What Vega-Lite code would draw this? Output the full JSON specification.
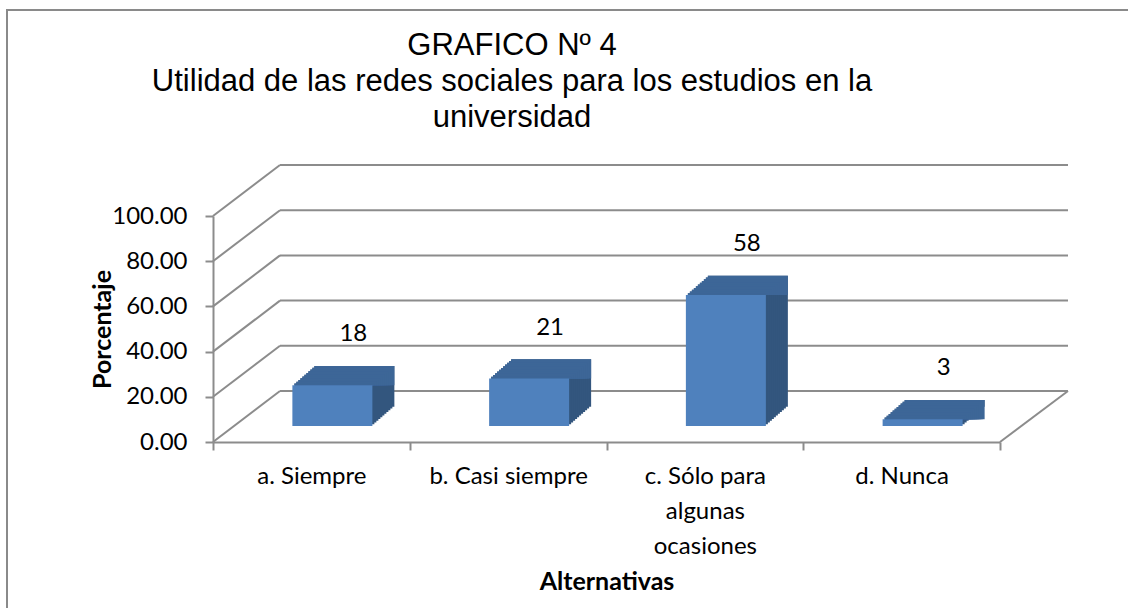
{
  "$schema": "https://vega.github.io/schema/vega-lite/v6.json",
  "autosize": "none",
  "width": 1140,
  "height": 610,
  "padding": {"left": 7, "top": 10, "right": -19, "bottom": -12},
  "background": "white",
  "config": {
    "font": "Lato",
    "view": {"stroke": "#8a8a8a", "strokeWidth": 2}
  },
  "title": {
    "text": ["GRAFICO Nº 4", "Utilidad de las redes sociales para los estudios en la", "universidad"],
    "font": "Liberation Sans",
    "fontSize": 31,
    "fontWeight": "normal",
    "color": "#000000",
    "lineHeight": 36,
    "anchor": "middle",
    "frame": "group",
    "dx": -65,
    "offset": -124
  },
  "datasets": {
    "bars": [
      {"cat": "a. Siempre", "value": 18},
      {"cat": "b. Casi siempre", "value": 21},
      {"cat": "c. Sólo para algunas ocasiones", "value": 58},
      {"cat": "d. Nunca", "value": 3}
    ],
    "grid": [
      {"value": 0}, {"value": 20}, {"value": 40}, {"value": 60}, {"value": 80}, {"value": 100}
    ],
    "floor": [{"value": 0}]
  },
  "layer": [
    {
      "data": {"name": "grid"},
      "mark": {"type": "rule", "color": "#8c8c8c", "strokeWidth": 2, "xOffset": 67, "x2Offset": 68, "yOffset": -51},
      "encoding": {
        "x": {"datum": "a. Siempre", "type": "nominal", "bandPosition": 0,
          "scale": {"domain": ["a. Siempre", "b. Casi siempre", "c. Sólo para algunas ocasiones", "d. Nunca"], "range": [206, 993], "paddingInner": 0, "paddingOuter": 0},
          "title": "Alternativas",
          "axis": {
            "orient": "bottom", "offset": -178, "tickBand": "extent",
            "domainColor": "#8c8c8c", "domainWidth": 2, "tickColor": "#8c8c8c", "tickWidth": 2, "tickSize": 8,
            "labelFont": "Lato", "labelFontSize": 24, "labelColor": "#000000", "labelAngle": 0, "labelPadding": 14, "labelLineHeight": 35,
            "labelLimit": 300,
            "labelExpr": "datum.value == 'c. Sólo para algunas ocasiones' ? ['c. Sólo para', 'algunas', 'ocasiones'] : datum.label",
            "titleFont": "Lato", "titleFontSize": 25, "titleFontWeight": "bold", "titleColor": "#000000", "titlePadding": 11,
            "grid": false
          }
        },
        "x2": {"datum": "d. Nunca", "bandPosition": 1},
        "y": {"field": "value", "type": "quantitative", "title": "Porcentaje",
          "scale": {"domain": [0, 100], "range": [432, 206], "nice": false, "zero": true},
          "axis": {
            "orient": "left", "offset": -206, "values": [0, 20, 40, 60, 80, 100], "format": ".2f",
            "domainColor": "#8c8c8c", "domainWidth": 2, "tickColor": "#8c8c8c", "tickWidth": 2, "tickSize": 8,
            "labelFont": "Lato", "labelFontSize": 24, "labelColor": "#000000", "labelPadding": 18,
            "titleFont": "Lato", "titleFontSize": 25, "titleFontWeight": "bold", "titleColor": "#000000", "titlePadding": -4,
            "grid": false
          }
        }
      }
    },
    {
      "data": {"name": "grid"},
      "mark": {"type": "rule", "color": "#8c8c8c", "strokeWidth": 2, "x2Offset": 67, "y2Offset": -51},
      "encoding": {
        "x": {"datum": "a. Siempre", "type": "nominal", "bandPosition": 0, "title": "Alternativas"},
        "x2": {"datum": "a. Siempre", "bandPosition": 0},
        "y": {"field": "value", "type": "quantitative", "title": "Porcentaje"},
        "y2": {"field": "value"}
      }
    },
    {
      "data": {"name": "floor"},
      "mark": {"type": "rule", "color": "#8c8c8c", "strokeWidth": 2, "x2Offset": 68, "y2Offset": -51},
      "encoding": {
        "x": {"datum": "d. Nunca", "type": "nominal", "bandPosition": 1, "title": "Alternativas"},
        "x2": {"datum": "d. Nunca", "bandPosition": 1},
        "y": {"field": "value", "type": "quantitative", "title": "Porcentaje"},
        "y2": {"field": "value"}
      }
    },
    {
      "data": {"name": "bars"},
      "encoding": {
        "x": {"field": "cat", "type": "nominal", "title": "Alternativas"},
        "y": {"field": "value", "type": "quantitative", "title": "Porcentaje"}
      },
      "layer": [
        {"mark": {"type": "bar", "color": "#33567E", "width": {"band": 0.4066}, "xOffset": 43, "x2Offset": 43, "yOffset": -35.25, "y2Offset": -35.25}},
        {"mark": {"type": "bar", "color": "#33567E", "width": {"band": 0.4066}, "xOffset": 41, "x2Offset": 41, "yOffset": -33.5, "y2Offset": -33.5}},
        {"mark": {"type": "bar", "color": "#33567E", "width": {"band": 0.4066}, "xOffset": 39, "x2Offset": 39, "yOffset": -31.75, "y2Offset": -31.75}},
        {"mark": {"type": "bar", "color": "#33567E", "width": {"band": 0.4066}, "xOffset": 37, "x2Offset": 37, "yOffset": -30, "y2Offset": -30}},
        {"mark": {"type": "bar", "color": "#33567E", "width": {"band": 0.4066}, "xOffset": 35, "x2Offset": 35, "yOffset": -28.25, "y2Offset": -28.25}},
        {"mark": {"type": "bar", "color": "#33567E", "width": {"band": 0.4066}, "xOffset": 33, "x2Offset": 33, "yOffset": -26.5, "y2Offset": -26.5}},
        {"mark": {"type": "bar", "color": "#33567E", "width": {"band": 0.4066}, "xOffset": 31, "x2Offset": 31, "yOffset": -24.75, "y2Offset": -24.75}},
        {"mark": {"type": "bar", "color": "#33567E", "width": {"band": 0.4066}, "xOffset": 29, "x2Offset": 29, "yOffset": -23, "y2Offset": -23}},
        {"mark": {"type": "bar", "color": "#33567E", "width": {"band": 0.4066}, "xOffset": 27, "x2Offset": 27, "yOffset": -21.25, "y2Offset": -21.25}},
        {"mark": {"type": "bar", "color": "#33567E", "width": {"band": 0.4066}, "xOffset": 25, "x2Offset": 25, "yOffset": -19.5, "y2Offset": -19.5}},
        {"mark": {"type": "bar", "color": "#33567E", "width": {"band": 0.4066}, "xOffset": 23, "x2Offset": 23, "yOffset": -17.75, "y2Offset": -17.75}},
        {"mark": {"type": "bar", "color": "#3D6697", "width": {"band": 0.4066}, "xOffset": 43, "x2Offset": 43, "yOffset": -35.25, "y2Offset": -16}, "encoding": {"y2": {"field": "value"}}},
        {"mark": {"type": "bar", "color": "#3D6697", "width": {"band": 0.4066}, "xOffset": 41, "x2Offset": 41, "yOffset": -33.5, "y2Offset": -16}, "encoding": {"y2": {"field": "value"}}},
        {"mark": {"type": "bar", "color": "#3D6697", "width": {"band": 0.4066}, "xOffset": 39, "x2Offset": 39, "yOffset": -31.75, "y2Offset": -16}, "encoding": {"y2": {"field": "value"}}},
        {"mark": {"type": "bar", "color": "#3D6697", "width": {"band": 0.4066}, "xOffset": 37, "x2Offset": 37, "yOffset": -30, "y2Offset": -16}, "encoding": {"y2": {"field": "value"}}},
        {"mark": {"type": "bar", "color": "#3D6697", "width": {"band": 0.4066}, "xOffset": 35, "x2Offset": 35, "yOffset": -28.25, "y2Offset": -16}, "encoding": {"y2": {"field": "value"}}},
        {"mark": {"type": "bar", "color": "#3D6697", "width": {"band": 0.4066}, "xOffset": 33, "x2Offset": 33, "yOffset": -26.5, "y2Offset": -16}, "encoding": {"y2": {"field": "value"}}},
        {"mark": {"type": "bar", "color": "#3D6697", "width": {"band": 0.4066}, "xOffset": 31, "x2Offset": 31, "yOffset": -24.75, "y2Offset": -16}, "encoding": {"y2": {"field": "value"}}},
        {"mark": {"type": "bar", "color": "#3D6697", "width": {"band": 0.4066}, "xOffset": 29, "x2Offset": 29, "yOffset": -23, "y2Offset": -16}, "encoding": {"y2": {"field": "value"}}},
        {"mark": {"type": "bar", "color": "#3D6697", "width": {"band": 0.4066}, "xOffset": 27, "x2Offset": 27, "yOffset": -21.25, "y2Offset": -16}, "encoding": {"y2": {"field": "value"}}},
        {"mark": {"type": "bar", "color": "#3D6697", "width": {"band": 0.4066}, "xOffset": 25, "x2Offset": 25, "yOffset": -19.5, "y2Offset": -16}, "encoding": {"y2": {"field": "value"}}},
        {"mark": {"type": "bar", "color": "#3D6697", "width": {"band": 0.4066}, "xOffset": 23, "x2Offset": 23, "yOffset": -17.75, "y2Offset": -16}, "encoding": {"y2": {"field": "value"}}},
        {"mark": {"type": "bar", "color": "#4F81BD", "width": {"band": 0.4066}, "xOffset": 21, "x2Offset": 21, "yOffset": -16, "y2Offset": -16}},
        {
          "mark": {"type": "text", "font": "Lato", "fontSize": 24, "color": "#000000", "baseline": "middle", "align": "center", "xOffset": 42, "yOffset": -67},
          "encoding": {"text": {"field": "value", "type": "quantitative"}}
        }
      ]
    }
  ]
}
